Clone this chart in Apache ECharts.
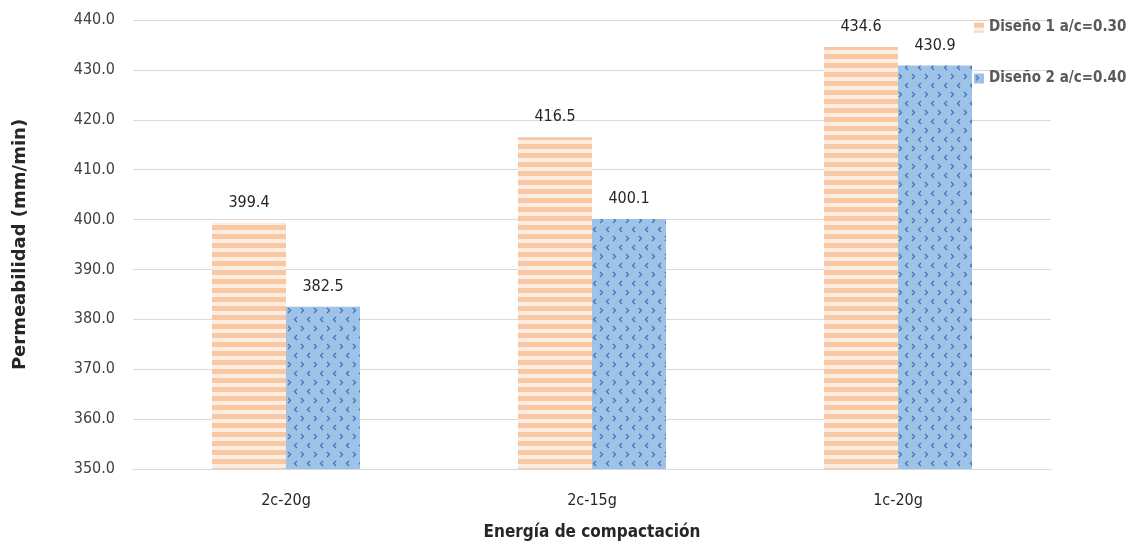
<!DOCTYPE html>
<html>
<head>
<meta charset="utf-8">
<script src="https://cdn.jsdelivr.net/npm/echarts@6/dist/echarts.min.js"></script>
<style>
html,body{margin:0;padding:0;background:#fff;}
#chart{width:1131px;height:546px;}
</style>
</head>
<body>
<div id="chart"></div>
<script>
// Compaction energy categories and measured permeability per mix design
const categories = ['2c-20g', '2c-15g', '1c-20g'];
const diseno1 = [399.4, 416.5, 434.6];
const diseno2 = [382.5, 400.1, 430.9];
const seriesNames = ['Diseño 1 a/c=0.30', 'Diseño 2 a/c=0.40'];
const yMin = 350, yMax = 440, yStep = 10;

const FONT = "'Liberation Sans Narrow','DejaVu Sans Condensed','Liberation Sans',sans-serif";

// Horizontal stripe fill for the first series
function stripePattern() {
  const c = document.createElement('canvas');
  c.width = 8; c.height = 9;
  const g = c.getContext('2d');
  g.fillStyle = '#fdece0';
  g.fillRect(0, 0, 8, 9);
  g.fillStyle = '#f8c7a3';
  g.fillRect(0, 0, 8, 5);
  return c;
}

// Small chevron fill for the second series
function chevronPattern() {
  const c = document.createElement('canvas');
  c.width = 13; c.height = 18;
  const g = c.getContext('2d');
  g.fillStyle = '#9dc3e6';
  g.fillRect(0, 0, 13, 18);
  g.strokeStyle = '#4472c4';
  g.lineWidth = 1.3;
  g.beginPath();
  g.moveTo(2, 2); g.lineTo(4.5, 4.5); g.lineTo(2, 7);
  g.moveTo(11, 11); g.lineTo(8.5, 13.5); g.lineTo(11, 16);
  g.stroke();
  return c;
}

const chart = echarts.init(document.getElementById('chart'), null, {renderer: 'canvas'});
const stripe = {image: stripePattern(), repeat: 'repeat'};
const chevron = {image: chevronPattern(), repeat: 'repeat'};

const labelCfg = {
  show: true,
  position: 'top',
  distance: 12,
  color: '#262626',
  fontFamily: FONT,
  fontSize: 16,
  formatter: p => p.value.toFixed(1)
};

chart.setOption({
  backgroundColor: '#ffffff',
  animation: false,
  grid: {left: 133, right: 80, top: 20, bottom: 76, containLabel: false},
  legend: {
    orient: 'vertical',
    left: 969,
    top: 15,
    itemGap: 36,
    itemWidth: 10,
    itemHeight: 10,
    icon: 'rect',
    textStyle: {color: '#595959', fontFamily: FONT, fontSize: 15, fontWeight: 'bold'},
    data: seriesNames
  },
  xAxis: {
    type: 'category',
    data: categories,
    name: 'Energía de compactación',
    nameLocation: 'middle',
    nameGap: 55,
    nameTextStyle: {color: '#262626', fontFamily: FONT, fontSize: 17, fontWeight: 'bold'},
    axisLine: {lineStyle: {color: '#d9d9d9', width: 1}},
    axisTick: {show: false},
    axisLabel: {color: '#262626', fontFamily: FONT, fontSize: 16, margin: 24}
  },
  yAxis: {
    type: 'value',
    min: yMin,
    max: yMax,
    interval: yStep,
    name: 'Permeabilidad (mm/min)',
    nameLocation: 'middle',
    nameGap: 104,
    nameRotate: 90,
    nameTextStyle: {color: '#262626', fontFamily: "'DejaVu Sans','Liberation Sans',sans-serif", fontSize: 18, fontWeight: 'bold'},
    axisLine: {show: false},
    axisTick: {show: false},
    splitLine: {lineStyle: {color: '#d9d9d9', width: 1}},
    axisLabel: {color: '#404040', fontFamily: FONT, fontSize: 16, margin: 18, formatter: v => v.toFixed(1)}
  },
  series: [
    {
      name: seriesNames[0],
      type: 'bar',
      data: diseno1,
      barWidth: 74,
      barGap: '0%',
      itemStyle: {color: stripe},
      label: labelCfg
    },
    {
      name: seriesNames[1],
      type: 'bar',
      data: diseno2,
      barWidth: 74,
      barGap: '0%',
      itemStyle: {color: chevron},
      label: labelCfg
    }
  ]
});
</script>
</body>
</html>
